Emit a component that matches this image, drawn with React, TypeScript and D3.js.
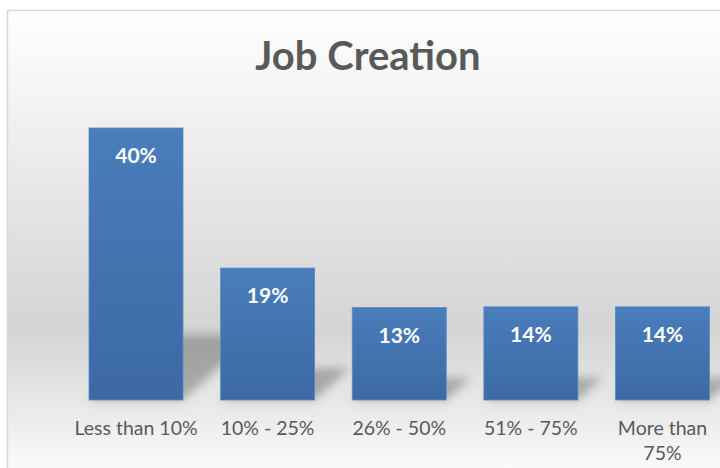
import React from "react";
import * as d3 from "d3";

const title = "Job Creation";
const categories = ["Less than 10%", "10% - 25%", "26% - 50%", "51% - 75%", "More than 75%"];
const values = [40, 19.4, 13.6, 13.7, 13.7];
const valueLabels = ["40%", "19%", "13%", "14%", "14%"];

const W = 720;
const H = 468;
const FONT = "Lato, 'Open Sans', sans-serif";

function measure(text: string, font: string): number {
  const canvas = document.createElement("canvas");
  const ctx = canvas.getContext("2d");
  if (!ctx) return text.length * 9;
  ctx.font = font;
  return ctx.measureText(text).width;
}

function wrapLabel(text: string, maxWidth: number, font: string): string[] {
  const words = text.split(" ");
  const lines: string[] = [];
  let cur = "";
  for (const w of words) {
    const test = cur ? cur + " " + w : w;
    if (measure(test, font) > maxWidth && cur) {
      lines.push(cur);
      cur = w;
    } else cur = test;
  }
  if (cur) lines.push(cur);
  return lines;
}

export default function App() {
  const x = d3
    .scaleBand<string>()
    .domain(categories)
    .range([70.2, 728.3])
    .paddingInner(0.4 / 1.4)
    .paddingOuter(0.2 / 1.4);
  const y = d3.scaleLinear().domain([0, 50]).range([400, 60]);
  const bw = x.bandwidth();
  const base = y(0);
  const labelSize = 19.5;
  const labelFont = `${labelSize}px Lato`;
  const wLess = measure(categories[0], labelFont);
  const wMore = measure(categories[4], labelFont);
  const maxW = (wLess + wMore) / 2;

  return (
    <svg width={W} height={H} style={{ position: "absolute", left: 0, top: 0 }}>
      <defs>
        <linearGradient id="bg" x1="0" y1="0" x2="0" y2="1">
          <stop offset="0" stopColor="#ffffff" />
          <stop offset="0.68" stopColor="#d4d4d4" />
          <stop offset="1" stopColor="#fdfdfd" />
        </linearGradient>
        <linearGradient id="bar" x1="0" y1="0" x2="0" y2="1">
          <stop offset="0" stopColor="#4a7dbc" />
          <stop offset="1" stopColor="#3c69a2" />
        </linearGradient>
        <filter id="blur" x="-50%" y="-50%" width="200%" height="200%">
          <feGaussianBlur stdDeviation="5" />
        </filter>
      </defs>
      <rect x={0} y={0} width={W} height={H} fill="#ffffff" />
      <rect x={7.5} y={10.5} width={800} height={470} fill="url(#bg)" stroke="#d9d9d9" strokeWidth={1.5} />
      <text
        x={368}
        y={70}
        textAnchor="middle"
        fontFamily={FONT}
        fontWeight={700}
        fontSize={40}
        fill="#595959"
      >
        {title}
      </text>
      <g filter="url(#blur)">
        {categories.map((c, i) => {
          const x0 = x(c)!;
          const x1 = x0 + bw;
          const h = (base - y(values[i])) * 0.24;
          const skew = h * 1.1;
          const pts = [
            [x0, base],
            [x1, base],
            [x1 + skew, base - h],
            [x0 + skew, base - h],
          ];
          return <polygon key={c} points={pts.map((p) => p.join(",")).join(" ")} fill="#000" opacity={0.26} />;
        })}
      </g>
      {categories.map((c, i) => (
        <rect
          key={c}
          x={x(c)!}
          y={y(values[i])}
          width={bw}
          height={base - y(values[i])}
          fill="url(#bar)"
          stroke="#5b8bc7"
          strokeWidth={0.8}
        />
      ))}
      {categories.map((c, i) => (
        <text
          key={c}
          x={x(c)! + bw / 2}
          y={y(values[i]) + 35}
          textAnchor="middle"
          fontFamily={FONT}
          fontWeight={700}
          fontSize={21}
          fill="#ffffff"
        >
          {valueLabels[i]}
        </text>
      ))}
      {categories.map((c) => {
        const lines = wrapLabel(c, wMore > wLess ? maxW : 121, labelFont);
        return (
          <text
            key={c}
            x={x(c)! + bw / 2}
            y={435}
            textAnchor="middle"
            fontFamily={FONT}
            fontSize={labelSize}
            fill="#595959"
          >
            {lines.map((l, k) => (
              <tspan key={k} x={x(c)! + bw / 2} dy={k === 0 ? 0 : 25}>
                {l}
              </tspan>
            ))}
          </text>
        );
      })}
    </svg>
  );
}
